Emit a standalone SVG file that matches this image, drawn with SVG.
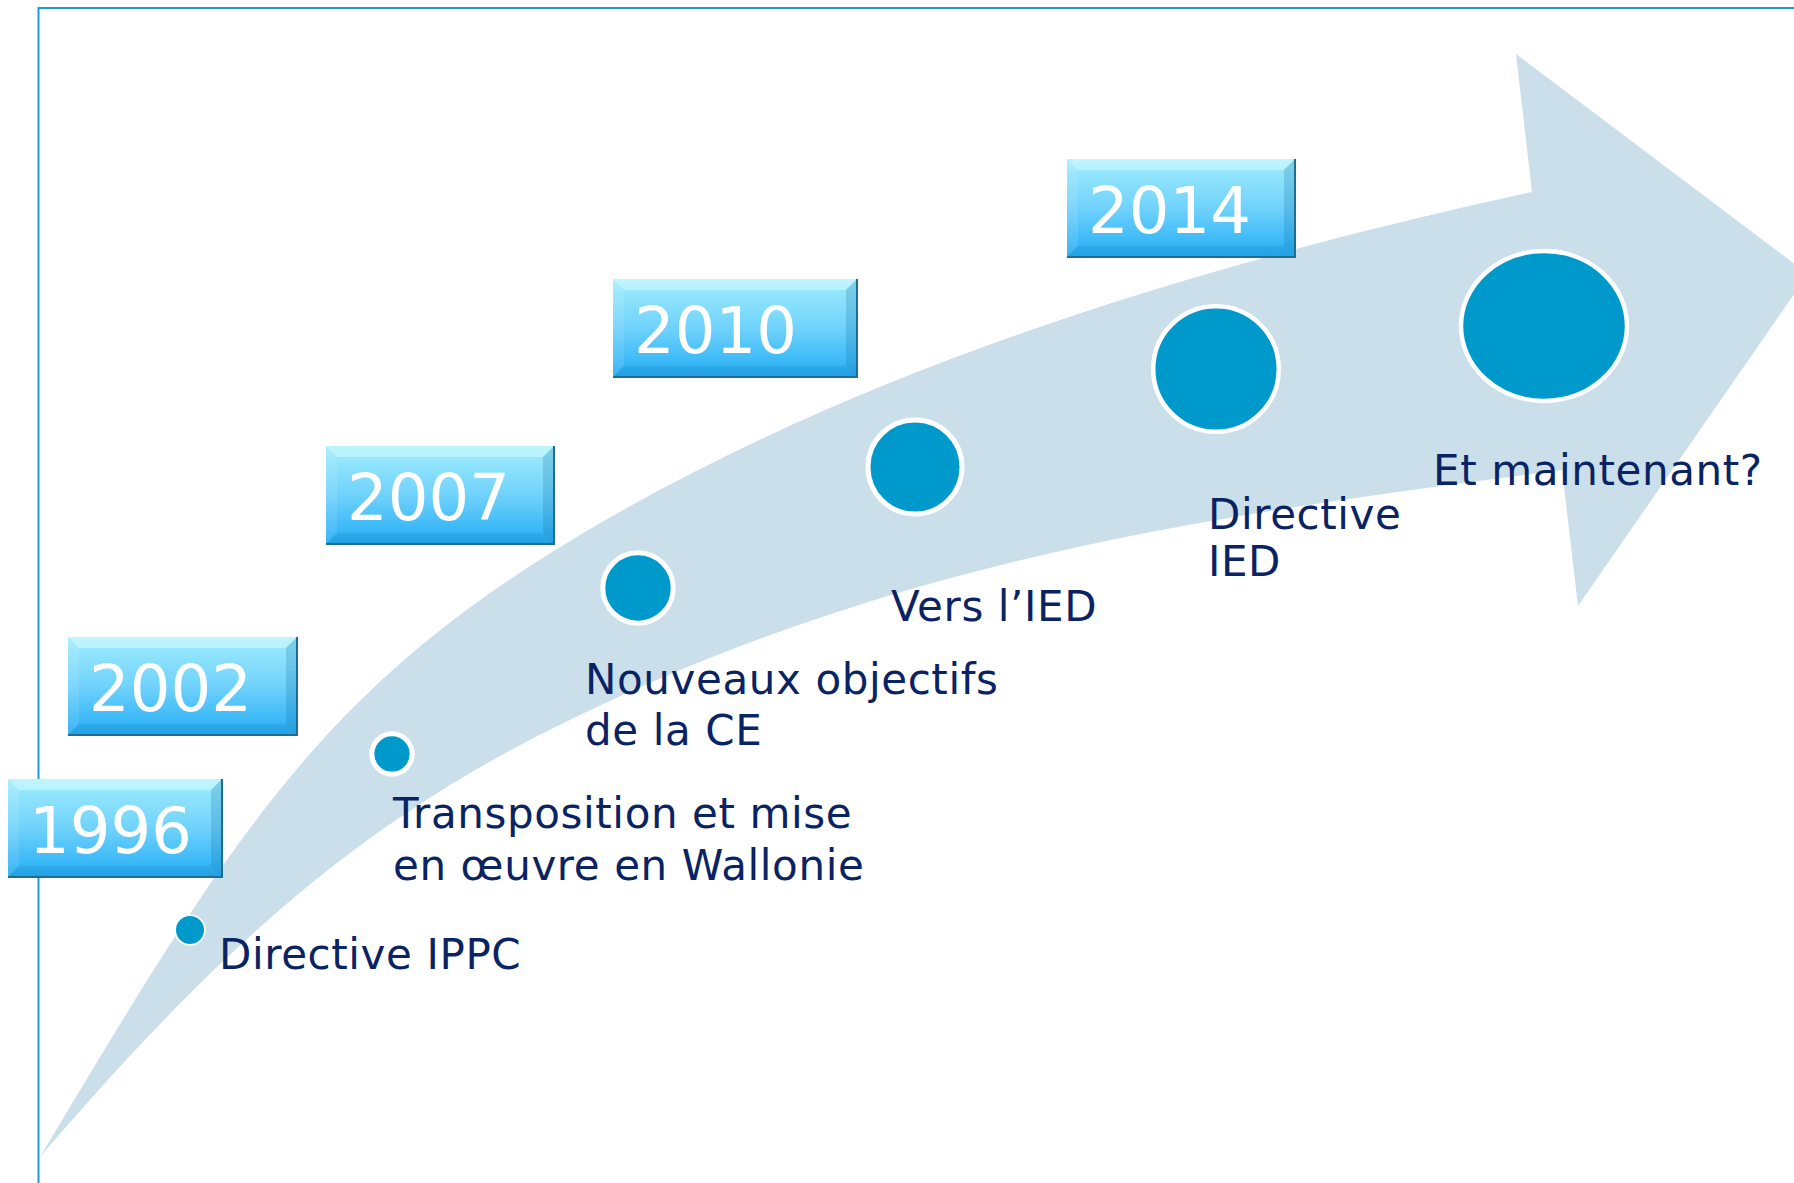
<svg xmlns="http://www.w3.org/2000/svg" width="1794" height="1183" viewBox="0 0 1794 1183">
  <defs>
    <linearGradient id="boxFill" x1="0" y1="0" x2="0" y2="1">
      <stop offset="0" stop-color="#a6eefd"/>
      <stop offset="0.15" stop-color="#92e5fc"/>
      <stop offset="0.5" stop-color="#70d2fb"/>
      <stop offset="0.85" stop-color="#3ab8f7"/>
      <stop offset="1" stop-color="#25a9ef"/>
    </linearGradient>
    <style>
      .frame { stroke: #1c9bd5; stroke-width: 2; fill: none; }
      .band { fill: #cbdfeb; }
      .box { fill: url(#boxFill); }
      .bevel-top { fill: #d4fbff; opacity: 0.55; }
      .bevel-left { fill: #ffffff; opacity: 0.10; }
      .bevel-right { fill: #0d6f9e; opacity: 0.22; }
      .bevel-bottom { fill: #0b76b0; opacity: 0.16; }
      .edge { stroke: #1d6e92; stroke-width: 2; fill: none; }
      .year { font-family: "DejaVu Sans", Verdana, sans-serif; font-size: 64px; fill: #ffffff; }
      .dot { fill: #0099cc; stroke: #ffffff; }
      .label { font-family: "DejaVu Sans", Verdana, sans-serif; font-size: 42px; letter-spacing: 0.6px; fill: #0a2363; }
    </style>
  </defs>

  <!-- slide frame -->
  <g id="frame">
    <line class="frame" x1="38" y1="8" x2="1794" y2="8"/>
    <line class="frame" x1="38.5" y1="7" x2="38.5" y2="1183"/>
  </g>

  <!-- curved timeline arrow -->
  <g id="timeline-arrow">
    <path class="band" d="M 40 1157 C 233 834, 322 689, 580 535 C 863 366, 1210 262, 1532 192 L 1516 54 L 1808 274 L 1578 606 L 1562 470 C 1235 513, 923 551, 580 715 C 373 814, 233 932, 40 1157 Z"/>
  </g>

  <!-- 1996 -->
  <g id="event-1996">
    <g transform="translate(8,779)">
      <rect class="box" width="214" height="98"/>
      <polygon class="bevel-top" points="0,0 214,0 203,11 11,11"/>
      <polygon class="bevel-left" points="0,0 11,11 11,87 0,98"/>
      <polygon class="bevel-right" points="214,0 214,98 203,87 203,11"/>
      <polygon class="bevel-bottom" points="0,98 11,87 203,87 214,98"/>
      <polyline class="edge" points="214,0 214,98 0,98"/>
      <text class="year" x="21" y="74">1996</text>
    </g>
    <circle class="dot" cx="190" cy="930" r="14.9" stroke-width="1.8"/>
    <text class="label" x="219" y="969">Directive IPPC</text>
  </g>

  <!-- 2002 -->
  <g id="event-2002">
    <g transform="translate(68,637)">
      <rect class="box" width="229" height="98"/>
      <polygon class="bevel-top" points="0,0 229,0 218,11 11,11"/>
      <polygon class="bevel-left" points="0,0 11,11 11,87 0,98"/>
      <polygon class="bevel-right" points="229,0 229,98 218,87 218,11"/>
      <polygon class="bevel-bottom" points="0,98 11,87 218,87 229,98"/>
      <polyline class="edge" points="229,0 229,98 0,98"/>
      <text class="year" x="21" y="74">2002</text>
    </g>
    <circle class="dot" cx="392" cy="754" r="20.2" stroke-width="5"/>
    <text class="label" x="393" y="828">Transposition et mise</text>
    <text class="label" x="393" y="880">en œuvre en Wallonie</text>
  </g>

  <!-- 2007 -->
  <g id="event-2007">
    <g transform="translate(326,446)">
      <rect class="box" width="228" height="98"/>
      <polygon class="bevel-top" points="0,0 228,0 217,11 11,11"/>
      <polygon class="bevel-left" points="0,0 11,11 11,87 0,98"/>
      <polygon class="bevel-right" points="228,0 228,98 217,87 217,11"/>
      <polygon class="bevel-bottom" points="0,98 11,87 217,87 228,98"/>
      <polyline class="edge" points="228,0 228,98 0,98"/>
      <text class="year" x="21" y="74">2007</text>
    </g>
    <circle class="dot" cx="638" cy="588" r="35.2" stroke-width="5"/>
    <text class="label" x="585" y="694">Nouveaux objectifs</text>
    <text class="label" x="585" y="745">de la CE</text>
  </g>

  <!-- 2010 -->
  <g id="event-2010">
    <g transform="translate(613,279)">
      <rect class="box" width="244" height="98"/>
      <polygon class="bevel-top" points="0,0 244,0 233,11 11,11"/>
      <polygon class="bevel-left" points="0,0 11,11 11,87 0,98"/>
      <polygon class="bevel-right" points="244,0 244,98 233,87 233,11"/>
      <polygon class="bevel-bottom" points="0,98 11,87 233,87 244,98"/>
      <polyline class="edge" points="244,0 244,98 0,98"/>
      <text class="year" x="21" y="74">2010</text>
    </g>
    <circle class="dot" cx="915" cy="467" r="47" stroke-width="5"/>
    <text class="label" x="891" y="621">Vers l’IED</text>
  </g>

  <!-- 2014 -->
  <g id="event-2014">
    <g transform="translate(1067,159)">
      <rect class="box" width="228" height="98"/>
      <polygon class="bevel-top" points="0,0 228,0 217,11 11,11"/>
      <polygon class="bevel-left" points="0,0 11,11 11,87 0,98"/>
      <polygon class="bevel-right" points="228,0 228,98 217,87 217,11"/>
      <polygon class="bevel-bottom" points="0,98 11,87 217,87 228,98"/>
      <polyline class="edge" points="228,0 228,98 0,98"/>
      <text class="year" x="21" y="74">2014</text>
    </g>
    <circle class="dot" cx="1216" cy="369" r="62.8" stroke-width="4.5"/>
    <text class="label" x="1208" y="529">Directive</text>
    <text class="label" x="1208" y="576">IED</text>
  </g>

  <!-- next step -->
  <g id="event-next">
    <ellipse class="dot" cx="1544" cy="326" rx="83" ry="75" stroke-width="4.5"/>
    <text class="label" x="1433" y="485">Et maintenant?</text>
  </g>
</svg>
